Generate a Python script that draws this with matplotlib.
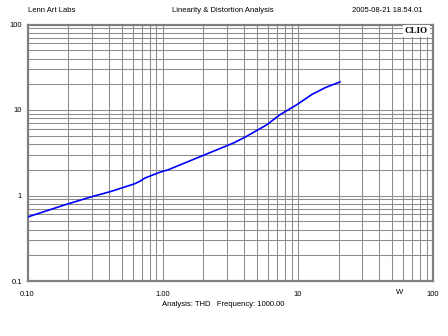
import matplotlib
matplotlib.use("Agg")
import matplotlib.pyplot as plt
from matplotlib.ticker import FixedLocator, NullFormatter

plt.rcParams['font.family'] = ['Liberation Sans', 'DejaVu Sans']

power_w = [0.100, 0.200, 0.300, 0.41, 0.62, 0.68, 0.74, 0.96, 1.10, 2.0, 3.33, 4.06,
           5.88, 7.37, 9.8, 12.7, 16.0, 20.5]
thd_pct = [0.56, 0.80, 0.97, 1.11, 1.37, 1.47, 1.60, 1.88, 2.0, 2.95, 4.1, 4.8,
           6.7, 8.8, 11.5, 15.2, 18.3, 21.3]

x_ticks = [0.1, 1, 10, 100]
x_labels = ["0.10", "1.00", "10", "100"]
y_ticks = [0.1, 1, 10, 100]
y_labels = ["0.1", "1", "10", "100"]

fig = plt.figure(figsize=(4.48, 3.36), dpi=100)
ax = fig.add_axes([27.5/448, 1-281/336, (433-27.5)/448, (281-24.5)/336])

ax.plot(power_w, thd_pct, color='#0000ff', lw=1.2, zorder=3)
ax.set_xscale('log')
ax.set_yscale('log')
ax.set_xlim(0.1, 100)
ax.set_ylim(0.1, 100)

minors = [m * 10.0**e for e in (-1, 0, 1) for m in range(2, 10)]
ax.xaxis.set_major_locator(FixedLocator(x_ticks))
ax.yaxis.set_major_locator(FixedLocator(y_ticks))
ax.xaxis.set_minor_locator(FixedLocator(minors))
ax.yaxis.set_minor_locator(FixedLocator(minors))
ax.xaxis.set_minor_formatter(NullFormatter())
ax.yaxis.set_minor_formatter(NullFormatter())
ax.set_xticklabels(x_labels)
ax.set_yticklabels(y_labels)
ax.grid(which='both', color='#8c8c8c', lw=0.75)
ax.set_axisbelow(True)
fs = 5.5
ax.tick_params(which='both', length=0, labelsize=fs, colors='black')
ax.tick_params(axis='x', pad=7)
ax.tick_params(axis='y', pad=4)
for s in ax.spines.values():
    s.set_color('#808080')
    s.set_linewidth(1.6)

fig.text(28/448, 1-10/336, "Lenn Art Labs", fontsize=fs, ha='left', va='center')
fig.text(223/448, 1-10/336, "Linearity & Distortion Analysis", fontsize=fs, ha='center', va='center')
fig.text(422/448, 1-10/336, "2005-08-21 18.54.01", fontsize=fs, ha='right', va='center')
fig.text(223/448, 1-305/336, "Analysis: THD   Frequency: 1000.00", fontsize=fs, ha='center', va='center')
fig.text(400/448, 1-292/336, "W", fontsize=fs, ha='center', va='center')
fig.text(416.5/448, 1-31/336, "CLIO", fontsize=6.5, fontweight='bold', family='Liberation Serif',
         ha='center', va='center',
         bbox=dict(facecolor='white', edgecolor='none', pad=1.2))

fig.savefig("out.png", dpi=100, facecolor='white')
